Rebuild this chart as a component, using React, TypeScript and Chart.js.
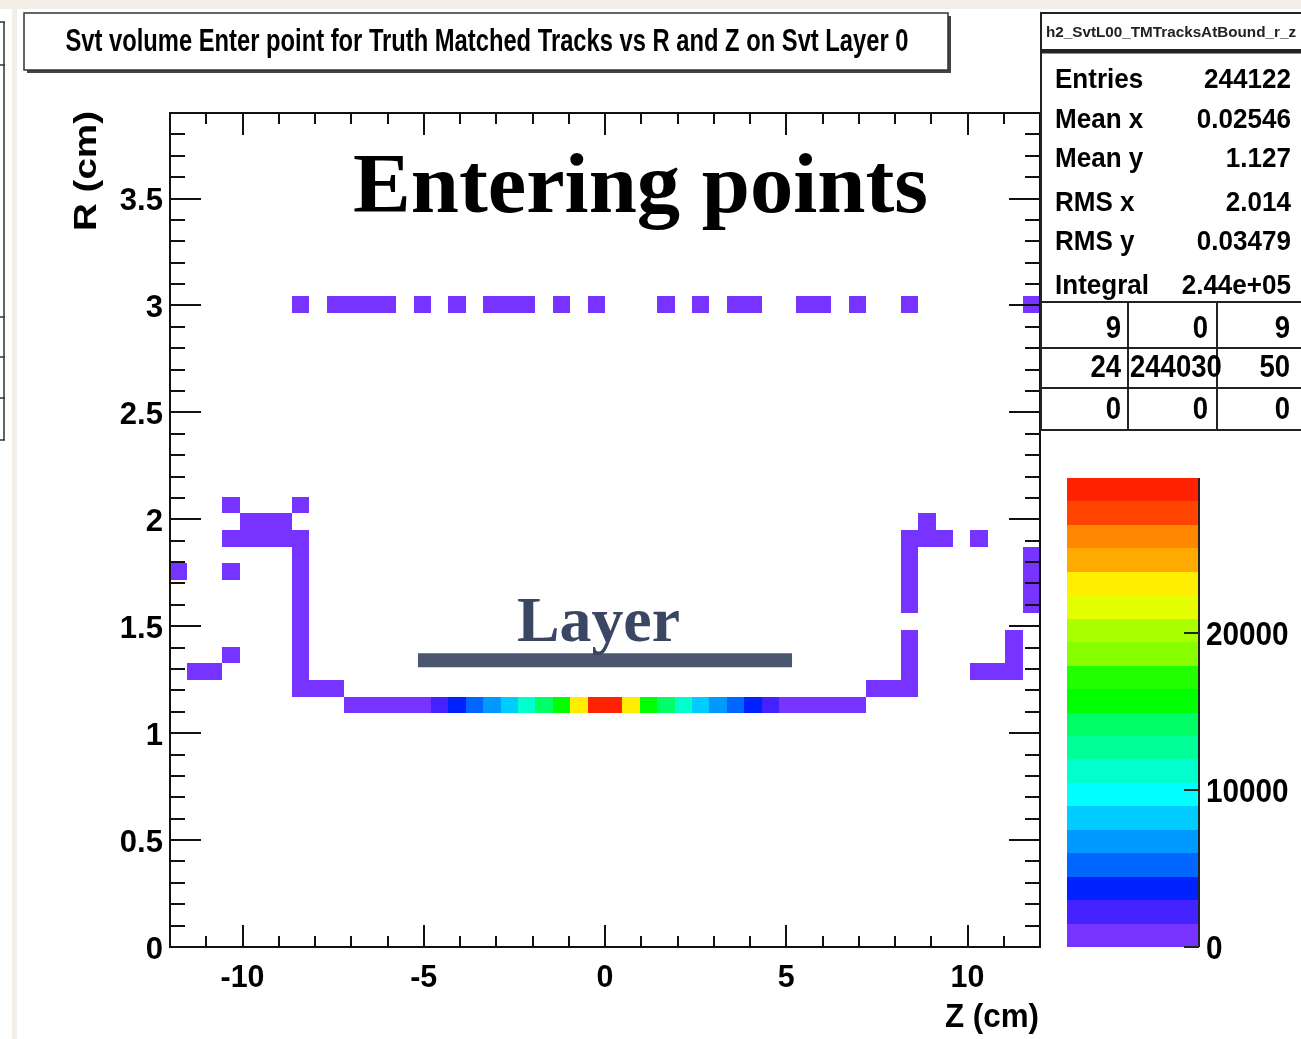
import React, { useEffect, useRef } from "react";
import { Chart, registerables } from "chart.js";

Chart.register(...registerables);

// ---- histogram binning (50 x 50 bins) ----
const Z_MIN = -12;
const Z_MAX = 12;
const R_MIN = 0;
const R_MAX = 3.9;
const BIN_Z = 0.48;
const BIN_R = 0.078;

// ---- layer row (R bin centre 1.131 cm) ----
const layerRowR = 1.131;
const layerRowZ = [
  -6.96, -6.48, -6.0, -5.52, -5.04, -4.56, -4.08, -3.6, -3.12, -2.64, -2.16, -1.68, -1.2, -0.72, -0.24,
  0.24, 0.72, 1.2, 1.68, 2.16, 2.64, 3.12, 3.6, 4.08, 4.56, 5.04, 5.52, 6.0, 6.48, 6.96,
];
const layerRowCounts = [
  160, 150, 140, 155, 170, 2250, 3750, 5250, 6700, 8200, 11200, 14200, 15700, 23100, 29600,
  29900, 23300, 15900, 14300, 11300, 8300, 6800, 5300, 3800, 2300, 165, 150, 145, 150, 160,
];

// ---- outer row (R bin centre 3.003 cm) ----
const outerRowR = 3.003;
const outerRowZ = [
  -8.4, -7.44, -6.96, -6.48, -6.0, -5.04, -4.08, -3.12, -2.64, -2.16, -1.2, -0.24, 1.68, 2.64, 3.6, 4.08,
  5.52, 6.0, 6.96, 8.4, 11.76,
];
const outerRowCounts = [2, 1, 3, 1, 2, 1, 2, 1, 2, 1, 1, 3, 1, 2, 1, 2, 1, 1, 2, 1, 1];

// ---- side walls: [Z, R, entries] ----
const leftWallCells: [number, number, number][] = [
  [-10.32, 2.067, 2], [-8.4, 2.067, 3],
  [-9.84, 1.989, 12], [-9.36, 1.989, 10], [-8.88, 1.989, 11],
  [-10.32, 1.911, 14], [-9.84, 1.911, 18], [-9.36, 1.911, 16], [-8.88, 1.911, 17], [-8.4, 1.911, 25],
  [-8.4, 1.833, 20], [-8.4, 1.755, 19], [-8.4, 1.677, 18], [-8.4, 1.599, 17], [-8.4, 1.521, 18],
  [-8.4, 1.443, 16], [-8.4, 1.365, 19], [-8.4, 1.287, 21], [-8.4, 1.209, 30],
  [-11.76, 1.755, 3], [-10.32, 1.755, 2],
  [-10.32, 1.365, 2],
  [-11.28, 1.287, 6], [-10.8, 1.287, 5],
  [-7.92, 1.209, 28], [-7.44, 1.209, 26],
];
const rightWallCells: [number, number, number][] = [
  [8.88, 1.989, 3],
  [8.4, 1.911, 22], [8.88, 1.911, 15], [9.36, 1.911, 12], [10.32, 1.911, 2],
  [8.4, 1.833, 18], [8.4, 1.755, 17], [8.4, 1.677, 19], [8.4, 1.599, 16],
  [8.4, 1.443, 15], [8.4, 1.365, 18], [8.4, 1.287, 20], [8.4, 1.209, 29],
  [7.44, 1.209, 27], [7.92, 1.209, 25],
  [11.76, 1.833, 4], [11.76, 1.755, 5], [11.76, 1.677, 4], [11.76, 1.599, 6],
  [11.28, 1.443, 5], [11.28, 1.365, 6], [11.28, 1.287, 7],
  [10.32, 1.287, 6], [10.8, 1.287, 5],
];

// ---- "Layer" marker ----
const layerMarkZ = [-5.16, 5.16];
const layerMarkR = [1.341, 1.341];

// ---- palette (low -> high) ----
const paletteColors = [
  "#7733ff", "#4422ff", "#0022ff", "#0066ff", "#0099ff", "#00ccff", "#00ffff", "#00ffcc", "#00ff99", "#00ff66",
  "#00ff00", "#22ff00", "#88ff00", "#aaff00", "#e6ff00", "#ffee00", "#ffaa00", "#ff8800", "#ff4400", "#ff2200",
];
const paletteMax = 29900;
const paletteTickValues = [0, 10000, 20000];
const paletteTickLabels = ["0", "10000", "20000"];

// ---- axes ----
const zTickValues = [-10, -5, 0, 5, 10];
const zTickLabels = ["-10", "-5", "0", "5", "10"];
const rTickValues = [0, 0.5, 1, 1.5, 2, 2.5, 3, 3.5];
const rTickLabels = ["0", "0.5", "1", "1.5", "2", "2.5", "3", "3.5"];

// ---- texts ----
const titleText = "Svt volume Enter point for Truth Matched Tracks vs R and Z on Svt Layer 0";
const histName = "h2_SvtL00_TMTracksAtBound_r_z";
const statsLabels = ["Entries", "Mean x", "Mean y", "RMS x", "RMS y", "Integral"];
const statsValues = ["244122", "0.02546", "1.127", "2.014", "0.03479", "2.44e+05"];
const overflowTable = [
  ["9", "0", "9"],
  ["24", "244030", "50"],
  ["0", "0", "0"],
];

const SANS = '"Liberation Sans", Arial, Helvetica, sans-serif';
const SERIF = '"Liberation Serif", "Times New Roman", serif';

function drawText(
  ctx: CanvasRenderingContext2D,
  text: string,
  x: number,
  y: number,
  font: string,
  align: CanvasTextAlign,
  width?: number,
  color = "#000",
  scaleX = 1
) {
  ctx.save();
  ctx.font = font;
  ctx.fillStyle = color;
  ctx.textBaseline = "alphabetic";
  ctx.textAlign = align;
  const w = ctx.measureText(text).width;
  const sx = width ? width / w : scaleX;
  ctx.translate(x, y);
  ctx.scale(sx, 1);
  ctx.fillText(text, 0, 0);
  ctx.restore();
}

function colorFor(v: number) {
  const n = paletteColors.length;
  const k = Math.min(n - 1, Math.max(0, Math.floor((v / paletteMax) * n)));
  return paletteColors[k];
}

const rootPlugin = {
  id: "rootStyle",
  beforeDraw(chart: any) {
    const ctx: CanvasRenderingContext2D = chart.ctx;
    const W = chart.width;
    const H = chart.height;
    ctx.save();
    ctx.fillStyle = "#ffffff";
    ctx.fillRect(0, 0, W, H);
    ctx.fillStyle = "#f3eee7";
    ctx.fillRect(0, 0, W, 9);
    ctx.fillRect(12, 0, 5, H);
    // remnants of neighbouring panel on the left edge
    ctx.strokeStyle = "#333";
    ctx.lineWidth = 1.5;
    ctx.beginPath();
    ctx.moveTo(4, 22);
    ctx.lineTo(4, 440);
    [22, 65, 317, 357, 398, 440].forEach((y) => {
      ctx.moveTo(0, y);
      ctx.lineTo(5, y);
    });
    ctx.stroke();
    ctx.restore();
  },
  beforeDatasetsDraw(chart: any) {
    const ctx: CanvasRenderingContext2D = chart.ctx;
    const xs = chart.scales.x;
    const ys = chart.scales.y;
    const cells = chart.data.datasets[0].data as { x: number; y: number; n: number }[];
    ctx.save();
    cells.forEach((c) => {
      const x0 = Math.round(xs.getPixelForValue(c.x - BIN_Z / 2));
      const x1 = Math.round(xs.getPixelForValue(c.x + BIN_Z / 2));
      const y0 = Math.round(ys.getPixelForValue(c.y + BIN_R / 2));
      const y1 = Math.round(ys.getPixelForValue(c.y - BIN_R / 2));
      ctx.fillStyle = colorFor(c.n);
      ctx.fillRect(x0, y0, x1 - x0, y1 - y0);
    });
    ctx.restore();
  },
  afterDraw(chart: any) {
    const ctx: CanvasRenderingContext2D = chart.ctx;
    const xs = chart.scales.x;
    const ys = chart.scales.y;
    const a = chart.chartArea;
    ctx.save();

    // ---- ticks ----
    ctx.strokeStyle = "#111";
    ctx.lineWidth = 2;
    ctx.beginPath();
    for (let i = 1; i < 39; i++) {
      const r = i / 10;
      const y = Math.round(ys.getPixelForValue(r)) + 0.0;
      const len = i % 5 === 0 ? 31 : 15;
      ctx.moveTo(a.left, y);
      ctx.lineTo(a.left + len, y);
      ctx.moveTo(a.right, y);
      ctx.lineTo(a.right - len, y);
    }
    for (let z = -11; z <= 11; z++) {
      const x = Math.round(xs.getPixelForValue(z));
      const len = z % 5 === 0 ? 22 : 11;
      ctx.moveTo(x, a.bottom);
      ctx.lineTo(x, a.bottom - len);
      ctx.moveTo(x, a.top);
      ctx.lineTo(x, a.top + len);
    }
    ctx.stroke();

    // ---- frame ----
    ctx.lineWidth = 2;
    ctx.strokeStyle = "#111";
    ctx.strokeRect(a.left, a.top, a.right - a.left, a.bottom - a.top);

    // ---- tick labels ----
    const tickFont = `bold 32px ${SANS}`;
    rTickValues.forEach((v, i) => {
      const y = ys.getPixelForValue(v);
      drawText(ctx, rTickLabels[i], 163, y + 11.5, tickFont, "right", undefined, "#000", 0.97);
    });
    zTickValues.forEach((v, i) => {
      const x = xs.getPixelForValue(v);
      drawText(ctx, zTickLabels[i], x, 987, tickFont, "center", undefined, "#000", 0.95);
    });

    // ---- axis titles ----
    drawText(ctx, "Z (cm)", 1039, 1027, `bold 34px ${SANS}`, "right", 94);
    ctx.save();
    ctx.translate(96, 171);
    ctx.rotate(-Math.PI / 2);
    drawText(ctx, "R (cm)", 0, 0, `bold 31px ${SANS}`, "center", 120);
    ctx.restore();

    // ---- title box ----
    ctx.fillStyle = "#444";
    ctx.fillRect(27, 16, 924, 57);
    ctx.fillStyle = "#fff";
    ctx.fillRect(24, 13, 924, 57);
    ctx.lineWidth = 1.5;
    ctx.strokeStyle = "#333";
    ctx.strokeRect(24, 13, 924, 57);
    drawText(ctx, titleText, 487, 51, `bold 31px ${SANS}`, "center", 843);

    // ---- stats box ----
    ctx.fillStyle = "#fff";
    ctx.fillRect(1041, 13, 262, 418);
    ctx.strokeStyle = "#222";
    ctx.lineWidth = 2;
    ctx.strokeRect(1041, 13, 270, 37);
    ctx.strokeRect(1041, 51, 270, 379);
    ctx.beginPath();
    ctx.moveTo(1041, 52.5);
    ctx.lineTo(1301, 52.5);
    [302, 348, 388].forEach((y) => {
      ctx.moveTo(1041, y);
      ctx.lineTo(1301, y);
    });
    [1128, 1217].forEach((x) => {
      ctx.moveTo(x, 302);
      ctx.lineTo(x, 430);
    });
    ctx.stroke();
    drawText(ctx, histName, 1171, 37, `bold 14px ${SANS}`, "center", 250, "#222");
    const statBase = [88, 128, 167, 211, 250, 294];
    statsLabels.forEach((lab, i) => {
      drawText(ctx, lab, 1055, statBase[i], `bold 28px ${SANS}`, "left", undefined, "#000", 0.93);
      drawText(ctx, statsValues[i], 1291, statBase[i], `bold 28px ${SANS}`, "right", undefined, "#000", 0.93);
    });
    const tableBase = [338, 377, 419];
    const colRight = [1121, 1208, 1290];
    const colLeft = [1043, 1130, 1219];
    overflowTable.forEach((row, ri) => {
      row.forEach((txt, ci) => {
        ctx.save();
        ctx.font = `bold 32px ${SANS}`;
        const w = ctx.measureText(txt).width * 0.86;
        ctx.restore();
        if (w > colRight[ci] - colLeft[ci]) {
          drawText(ctx, txt, colLeft[ci], tableBase[ri], `bold 32px ${SANS}`, "left", undefined, "#000", 0.86);
        } else {
          drawText(ctx, txt, colRight[ci], tableBase[ri], `bold 32px ${SANS}`, "right", undefined, "#000", 0.86);
        }
      });
    });

    // ---- colour palette ----
    const pl = 1067;
    const pr = 1199;
    const pt = 478;
    const pb = 947;
    const bandH = (pb - pt) / paletteColors.length;
    paletteColors.forEach((c, i) => {
      const y1 = pb - i * bandH;
      const y0 = pb - (i + 1) * bandH;
      ctx.fillStyle = c;
      ctx.fillRect(pl, Math.round(y0), pr - pl, Math.round(y1) - Math.round(y0));
    });
    ctx.strokeStyle = "#222";
    ctx.lineWidth = 2;
    ctx.beginPath();
    ctx.moveTo(pr, pt);
    ctx.lineTo(pr, pb);
    paletteTickValues.forEach((v) => {
      const y = Math.round(pb - (v / paletteMax) * (pb - pt));
      ctx.moveTo(pr, y);
      ctx.lineTo(pr - 15, y);
    });
    ctx.stroke();
    paletteTickValues.forEach((v, i) => {
      const y = pb - (v / paletteMax) * (pb - pt);
      drawText(ctx, paletteTickLabels[i], 1206, y + 12, `bold 33px ${SANS}`, "left", undefined, "#000", 0.9);
    });

    // ---- annotations ----
    drawText(ctx, "Entering points", 353, 212, `bold 84px ${SERIF}`, "left", 575, "#000");
    drawText(ctx, "Layer", 517, 641, `bold 64px ${SERIF}`, "left", 163, "#3b4762");

    ctx.restore();
  },
};

export default function App() {
  const canvasRef = useRef<HTMLCanvasElement | null>(null);

  useEffect(() => {
    if (!canvasRef.current) return;
    const cells: { x: number; y: number; n: number }[] = [];
    layerRowZ.forEach((z, i) => cells.push({ x: z, y: layerRowR, n: layerRowCounts[i] }));
    outerRowZ.forEach((z, i) => cells.push({ x: z, y: outerRowR, n: outerRowCounts[i] }));
    leftWallCells.forEach(([z, r, n]) => cells.push({ x: z, y: r, n }));
    rightWallCells.forEach(([z, r, n]) => cells.push({ x: z, y: r, n }));

    const chart = new Chart(canvasRef.current, {
      type: "scatter",
      data: {
        datasets: [
          {
            label: "h2_SvtL00_TMTracksAtBound_r_z",
            data: cells as any,
            pointRadius: 0,
            pointHoverRadius: 0,
            showLine: false,
          },
          {
            type: "line",
            label: "Layer",
            data: layerMarkZ.map((z, i) => ({ x: z, y: layerMarkR[i] })),
            borderColor: "#4b5670",
            borderWidth: 14,
            borderCapStyle: "butt",
            pointRadius: 0,
            showLine: true,
          } as any,
        ],
      },
      options: {
        animation: false,
        responsive: false,
        events: [],
        layout: { padding: { left: 170, right: 261, top: 113, bottom: 92 } },
        scales: {
          x: { type: "linear", min: Z_MIN, max: Z_MAX, display: false },
          y: { type: "linear", min: R_MIN, max: R_MAX, display: false },
        },
        plugins: {
          legend: { display: false },
          tooltip: { enabled: false },
        },
      },
      plugins: [rootPlugin],
    });
    return () => chart.destroy();
  }, []);

  return (
    <div style={{ position: "absolute", left: 0, top: 0, width: 1301, height: 1039 }}>
      <canvas ref={canvasRef} width={1301} height={1039} style={{ display: "block" }} />
    </div>
  );
}
